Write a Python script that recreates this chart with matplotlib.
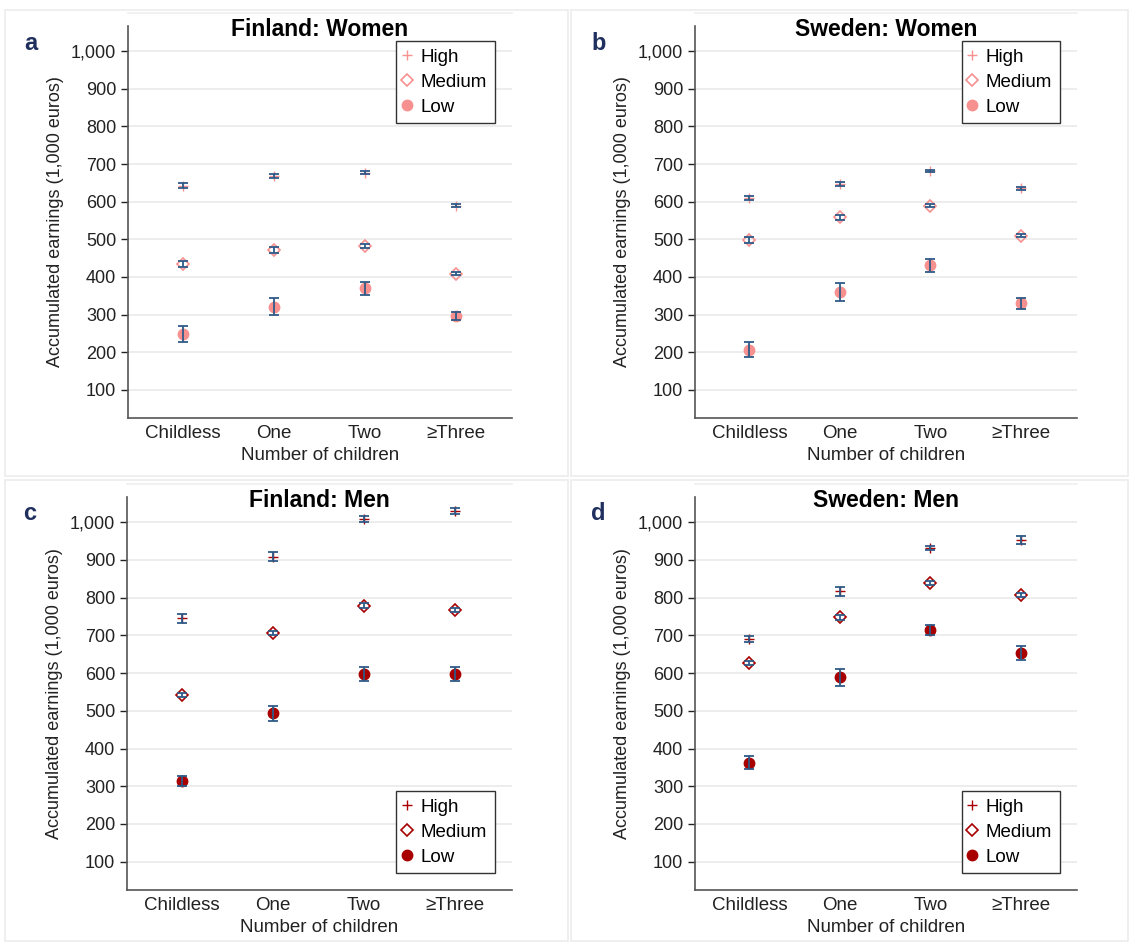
import matplotlib
matplotlib.use("Agg")
import matplotlib.pyplot as plt
from matplotlib.patches import Rectangle
from matplotlib.ticker import FuncFormatter

plt.rcParams['font.family'] = ['Liberation Sans', 'DejaVu Sans']

# categories
children = ["Childless", "One", "Two", "\u2265Three"]
groups = ["High", "Medium", "Low"]

# Finland: Women
fi_w_high = [643, 668, 677, 589]
fi_w_high_err = [6, 6, 4, 4]
fi_w_med = [434, 471, 483, 408]
fi_w_med_err = [8, 8, 5, 4]
fi_w_low = [248, 321, 370, 296]
fi_w_low_err = [22, 22, 17, 11]

# Sweden: Women
se_w_high = [610, 647, 682, 636]
se_w_high_err = [6, 5, 3, 4]
se_w_med = [499, 558, 589, 510]
se_w_med_err = [8, 6, 4, 4]
se_w_low = [207, 360, 431, 330]
se_w_low_err = [19, 23, 17, 15]

# Finland: Men
fi_m_high = [746, 909, 1009, 1029]
fi_m_high_err = [12, 12, 7, 8]
fi_m_med = [542, 706, 779, 767]
fi_m_med_err = [6, 6, 6, 6]
fi_m_low = [314, 493, 597, 597]
fi_m_low_err = [12, 20, 18, 18]

# Sweden: Men
se_m_high = [690, 817, 932, 953]
se_m_high_err = [8, 12, 6, 10]
se_m_med = [626, 748, 840, 807]
se_m_med_err = [5, 6, 5, 5]
se_m_low = [363, 589, 714, 653]
se_m_low_err = [16, 22, 14, 18]

panels = [
    ("a", "Finland: Women", (fi_w_high, fi_w_high_err), (fi_w_med, fi_w_med_err), (fi_w_low, fi_w_low_err), "#F7918F", "upper"),
    ("b", "Sweden: Women", (se_w_high, se_w_high_err), (se_w_med, se_w_med_err), (se_w_low, se_w_low_err), "#F7918F", "upper"),
    ("c", "Finland: Men", (fi_m_high, fi_m_high_err), (fi_m_med, fi_m_med_err), (fi_m_low, fi_m_low_err), "#A80000", "lower"),
    ("d", "Sweden: Men", (se_m_high, se_m_high_err), (se_m_med, se_m_med_err), (se_m_low, se_m_low_err), "#A80000", "lower"),
]

W, H = 1130, 943
fig = plt.figure(figsize=(W / 100, H / 100), dpi=100)

# axes boxes in pixels: left, top, right, bottom
boxes = [(128, 26, 512, 418), (695, 26, 1077, 418),
         (127, 497, 512, 890), (695, 497, 1077, 890)]
frames = [(5, 10, 568, 476), (571, 10, 1128, 476),
          (5, 480, 568, 941), (571, 480, 1128, 941)]

ERR_C = "#2E5A87"
TXT = "#222222"
FS = 13
x = list(range(1, len(children) + 1))

for (letter, title, high, med, low, col, legpos), box, fr in zip(panels, boxes, frames):
    # light panel frame
    fig.patches.append(Rectangle((fr[0] / W, 1 - fr[3] / H), (fr[2] - fr[0]) / W, (fr[3] - fr[1]) / H,
                                 transform=fig.transFigure, fill=False, ec="#ECECEC", lw=1.2))
    l, t, r, b = box
    # faint top line of plot region
    fig.lines.append(plt.Line2D([l / W, r / W], [1 - (t - 13) / H] * 2, transform=fig.transFigure,
                                color="#EFEFEF", lw=1.2))
    ax = fig.add_axes([l / W, 1 - b / H, (r - l) / W, (b - t) / H])

    ax.plot(x, high[0], ls="none", marker="+", ms=7, mew=1.0, color=col, label="High", zorder=3)
    ax.plot(x, med[0], ls="none", marker="D", ms=6, mew=1.2, mfc="none", mec=col, label="Medium", zorder=3)
    ax.plot(x, low[0], ls="none", marker="o", ms=7.5, color=col, label="Low", zorder=3)
    for vals, errs in (high, med, low):
        ax.errorbar(x, vals, yerr=errs, fmt="none", ecolor=ERR_C, elinewidth=1.3,
                    capsize=3.8, capthick=1.3, zorder=4)

    ax.set_xlim(0.4, 4.62)
    ax.set_ylim(25, 1067)
    ax.set_yticks(range(100, 1001, 100))
    ax.yaxis.set_major_formatter(FuncFormatter(lambda v, p: f"{int(v):,}"))
    ax.set_xticks(x)
    ax.set_xticklabels(children)
    ax.tick_params(axis="x", length=0, labelsize=FS + 0.5, pad=5, colors=TXT)
    ax.tick_params(axis="y", length=5, width=1, labelsize=FS, colors=TXT)
    ax.grid(axis="y", color="#EAEAEA", lw=1.2)
    ax.set_axisbelow(True)
    for s in ("top", "right"):
        ax.spines[s].set_visible(False)
    for s in ("left", "bottom"):
        ax.spines[s].set_color("#555555")
        ax.spines[s].set_linewidth(1.2)

    ax.set_ylabel("Accumulated earnings (1,000 euros)", fontsize=FS, color=TXT, labelpad=5)
    ax.set_xlabel("Number of children", fontsize=FS + 0.5, color=TXT, labelpad=4)
    ax.text(0.5, 0.99, title, transform=ax.transAxes, fontsize=16.5, fontweight="bold",
            ha="center", va="center")

    if legpos == "upper":
        anchor, loc = (0.955, 0.962), "upper right"
    else:
        anchor, loc = (0.955, 0.043), "lower right"
    leg = ax.legend(loc=loc, bbox_to_anchor=anchor, fontsize=FS + 0.5,
                    fancybox=False, framealpha=1, edgecolor="#333333",
                    handletextpad=0.6, handlelength=0.3, borderpad=0.4,
                    labelspacing=0.42, borderaxespad=0)
    leg.get_frame().set_linewidth(1.0)

    fig.text((l - 104) / W, 1 - (t + 17) / H, letter, fontsize=17, fontweight="bold",
             color="#1F2F5E", ha="left", va="center")

fig.savefig("out.png", dpi=100, facecolor="white")
